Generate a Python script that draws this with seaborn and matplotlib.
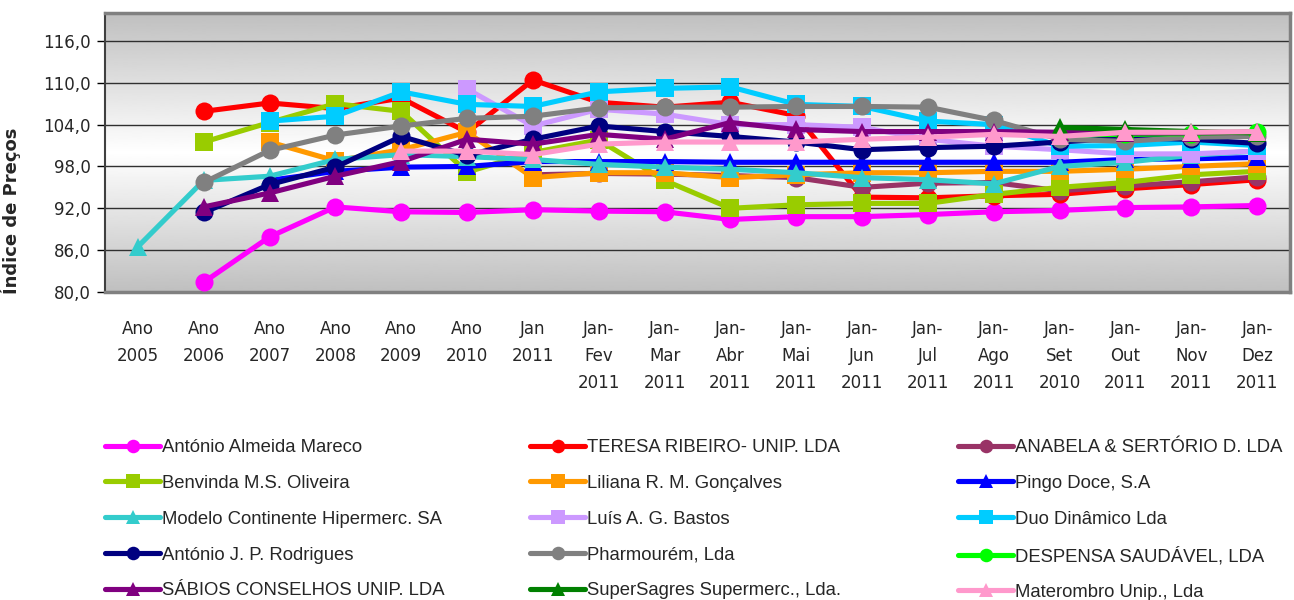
import numpy as np
import pandas as pd
import matplotlib
matplotlib.use("Agg")
import matplotlib.pyplot as plt
import seaborn as sns

# categorias do eixo x
periodos = ["Ano\n2005", "Ano\n2006", "Ano\n2007", "Ano\n2008", "Ano\n2009", "Ano\n2010",
            "Jan\n2011", "Jan-\nFev\n2011", "Jan-\nMar\n2011", "Jan-\nAbr\n2011",
            "Jan-\nMai\n2011", "Jan-\nJun\n2011", "Jan-\nJul\n2011", "Jan-\nAgo\n2011",
            "Jan-\nSet\n2010", "Jan-\nOut\n2011", "Jan-\nNov\n2011", "Jan-\nDez\n2011"]
nan = np.nan

# valores (indice de precos)
mareco = [nan, 81.4, 87.9, 92.2, 91.5, 91.4, 91.8, 91.6, 91.5, 90.4, 90.8, 90.8, 91.1, 91.5, 91.7, 92.1, 92.2, 92.4]
teresa = [nan, 105.9, 107.1, 106.3, 107.8, 102.9, 110.4, 107.2, 106.5, 107.2, 105.3, 93.6, 93.5, 93.8, 94.0, 94.8, 95.4, 96.1]
anabela = [nan, nan, nan, nan, nan, nan, 96.8, 97.0, 96.9, 96.7, 96.4, 95.0, 95.6, 95.7, 94.5, 95.2, 95.8, 96.5]
benvinda = [nan, 101.5, 104.3, 107.0, 105.9, 97.2, 100.0, 101.8, 96.0, 92.0, 92.5, 92.7, 92.7, 94.0, 95.0, 95.7, 96.8, 97.3]
liliana = [nan, nan, 101.5, 98.8, 100.4, 102.9, 96.4, 97.1, 97.1, 96.4, 96.8, 97.1, 97.1, 97.3, 97.3, 97.6, 98.0, 98.4]
pingo = [nan, nan, 96.0, 97.3, 97.9, 98.0, 98.7, 98.7, 98.7, 98.6, 98.6, 98.6, 98.6, 98.6, 98.6, 99.0, 99.1, 99.3]
modelo = [86.5, 96.0, 96.6, 99.0, 99.7, 99.4, 99.0, 98.3, 97.9, 97.6, 97.1, 96.4, 96.1, 95.5, 98.0, 98.6, 99.6, 100.2]
bastos = [nan, nan, nan, nan, nan, 109.1, 103.8, 106.2, 105.5, 104.0, 104.0, 103.6, 101.9, 100.9, 100.4, 99.8, 99.8, 100.2]
duo = [nan, nan, 104.5, 105.2, 108.7, 106.9, 106.6, 108.7, 109.2, 109.4, 106.9, 106.6, 104.5, 104.0, 100.9, 101.0, 101.5, 101.0]
rodrigues = [nan, 91.4, 95.4, 97.9, 102.3, 99.6, 101.9, 103.8, 103.0, 102.3, 101.5, 100.4, 100.7, 100.9, 101.5, 102.1, 101.9, 101.3]
pharmourem = [nan, 95.7, 100.3, 102.5, 103.8, 104.9, 105.2, 106.4, 106.5, 106.5, 106.6, 106.6, 106.5, 104.6, 101.9, 101.6, 102.2, 102.3]
despensa = [nan] * 14 + [102.5, 102.6, 102.7, 103.0]
sabios = [nan, 92.2, 94.2, 96.6, 98.7, 101.9, 101.2, 102.6, 101.9, 104.3, 103.3, 103.0, 103.0, 103.0, 102.9, 102.8, 102.8, 102.9]
supersagres = [nan] * 14 + [103.6, 103.3, 103.0, 102.8]
materombro = [nan, nan, nan, nan, 100.2, 100.2, 99.7, 101.2, 101.5, 101.5, 101.5, 101.9, 102.2, 102.6, 102.3, 102.9, 102.9, 103.0]

nomes = ["António Almeida Mareco", "TERESA RIBEIRO- UNIP. LDA", "ANABELA & SERTÓRIO D. LDA",
         "Benvinda M.S. Oliveira", "Liliana R. M. Gonçalves", "Pingo Doce, S.A",
         "Modelo Continente Hipermerc. SA", "Luís A. G. Bastos", "Duo Dinâmico Lda",
         "António J. P. Rodrigues", "Pharmourém, Lda", "DESPENSA SAUDÁVEL, LDA",
         "SÁBIOS CONSELHOS UNIP. LDA", "SuperSagres Supermerc., Lda.", "Materombro Unip., Lda"]
series = [mareco, teresa, anabela, benvinda, liliana, pingo, modelo, bastos, duo,
          rodrigues, pharmourem, despensa, sabios, supersagres, materombro]
cores = ["#FF00FF", "#FF0000", "#993366", "#99CC00", "#FF9900", "#0000FF",
         "#33CCCC", "#CC99FF", "#00CCFF", "#000080", "#808080", "#00FF00",
         "#800080", "#008000", "#FF99CC"]
marcadores = ["o", "o", "o", "s", "s", "^", "^", "s", "s", "o", "o", "o", "^", "^", "^"]

sns.set_style("white")
plt.rcParams["font.family"] = ["DejaVu Sans"]

fig = plt.figure(figsize=(12.94, 6.0), dpi=100)
ax = fig.add_axes([105 / 1294, 1 - 292 / 600, 1185 / 1294, 279 / 600])

# fundo em gradiente (cinzento nas bordas, branco ao meio)
t = np.linspace(0, 1, 256)
grad = 1 - np.abs(t - 0.5) * 2
ax.imshow(grad[:, None], extent=[0, 1, 0, 1], transform=ax.transAxes, aspect="auto",
          cmap="gray", vmin=-3.0, vmax=1.0, zorder=0, interpolation="bilinear")

for nome, vals, cor, mk in zip(nomes, series, cores, marcadores):
    df = pd.DataFrame({"x": np.arange(len(periodos)), "valor": vals}).dropna()
    sns.lineplot(data=df, x="x", y="valor", color=cor, marker=mk, markersize=13,
                 markeredgewidth=0, linewidth=3.7, label=nome, ax=ax, zorder=3)

ax.set_xlim(-0.5, len(periodos) - 0.5)
ax.set_ylim(80, 120)
yt = np.arange(80, 117, 6)
ax.set_yticks(yt)
ax.set_yticklabels([f"{v:.1f}".replace(".", ",") for v in yt], fontsize=12)
ax.set_xticks(np.arange(len(periodos)))
ax.set_xticklabels(periodos, fontsize=12, linespacing=1.65, va="top")
ax.tick_params(axis="x", length=0, pad=20)
ax.tick_params(axis="y", length=6, width=1, color="black", left=True, pad=4)
ax.grid(axis="y", color="#303030", linewidth=1)
ax.set_axisbelow(True)
for s in ax.spines.values():
    s.set_color("#808080")
    s.set_linewidth(2.5)
ax.spines["left"].set_color("#404040")
ax.spines["left"].set_linewidth(1.5)
ax.set_xlabel("")
ax.set_ylabel("Índice de Preços", fontsize=13, fontweight="bold")
ax.yaxis.set_label_coords(-0.071, 0.29)

h, l = ax.get_legend_handles_labels()
ax.get_legend().remove()
xs = [105 / 1294, 530 / 1294, 958 / 1294]
for c in range(3):
    idx = [c + 3 * r for r in range(5)]
    fig.legend([h[i] for i in idx], [l[i] for i in idx], loc="upper left",
               bbox_to_anchor=(xs[c], 1 - 439 / 600), frameon=False,
               prop={"family": "Liberation Sans", "size": 13.3}, borderpad=0,
               handlelength=3.0, handletextpad=0.1, labelspacing=1.02,
               markerscale=0.75, borderaxespad=0)

fig.savefig("out.png", dpi=100)
